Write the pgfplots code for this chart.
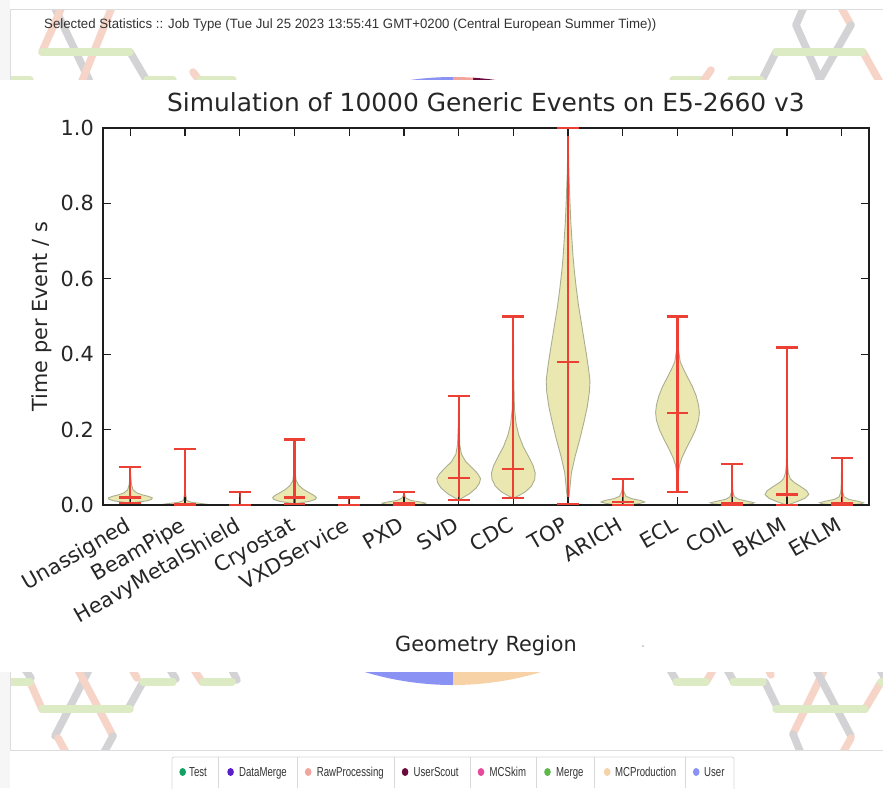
\documentclass[border=0pt]{standalone}
\usepackage{pgfplots}
\pgfplotsset{compat=1.18}
\usepackage{pgfplotstable}
\usepackage{graphicx}
\usepackage{fontspec}
\setmainfont{DejaVu Sans}
\newfontfamily\webfont{Liberation Sans}

\definecolor{pagegrey}{HTML}{F6F6F6}
\definecolor{panelline}{HTML}{DCDCDC}
\definecolor{hexgrey}{HTML}{D3D3D5}
\definecolor{hexsalmon}{HTML}{F7D4C8}
\definecolor{hexgreen}{HTML}{DDEBC5}
\definecolor{pieuser}{HTML}{8A92F4}
\definecolor{piemcprod}{HTML}{F6D2A6}
\definecolor{pieraw}{HTML}{F2A59C}
\definecolor{piescout}{HTML}{6B0A3C}
\definecolor{lgTest}{HTML}{12A163}
\definecolor{lgDataMerge}{HTML}{5B1FC9}
\definecolor{lgMCSkim}{HTML}{E64A9C}
\definecolor{lgMerge}{HTML}{5DB94A}
\definecolor{hdrtext}{HTML}{333333}
\definecolor{legline}{HTML}{D8D8D8}
\definecolor{vfill}{HTML}{EAE8B0}
\definecolor{vedge}{HTML}{AAAE90}
\definecolor{vred}{HTML}{EC4034}
\definecolor{spine}{HTML}{1E1E1E}
\definecolor{txt}{HTML}{262626}

% per-region summary: centre, minimum, median, maximum (s)
\pgfplotstableread{
c  min    med    max
0  0.005  0.020  0.100
1  0.000  0.002  0.148
2  0.000  0.001  0.034
3  0.003  0.020  0.174
4  0.000  0.001  0.020
5  0.000  0.006  0.034
6  0.013  0.071  0.289
7  0.018  0.095  0.500
8  0.002  0.380  1.000
9  0.000  0.008  0.068
10 0.035  0.245  0.500
11 0.000  0.004  0.108
12 0.000  0.028  0.418
13 0.000  0.004  0.125
}\stats

% violin outlines: time y and half width h (in category units);
% each outline starts and ends on the centre line
\pgfplotstableread{
y h
0.005 0.00
0.008 0.15
0.011 0.30
0.015 0.39
0.019 0.40
0.023 0.33
0.027 0.22
0.032 0.12
0.040 0.05
0.055 0.02
0.075 0.008
0.100 0.00
}\vUnassigned
\pgfplotstableread{
y h
0.000 0.00
0.000 0.30
0.002 0.40
0.004 0.30
0.007 0.12
0.012 0.03
0.030 0.008
0.080 0.003
0.148 0.00
}\vBeamPipe
\pgfplotstableread{
y h
0.000 0.00
0.000 0.007
0.034 0.003
0.034 0.00
}\vHeavy
\pgfplotstableread{
y h
0.003 0.00
0.006 0.12
0.010 0.28
0.015 0.38
0.020 0.40
0.026 0.35
0.033 0.26
0.042 0.16
0.052 0.08
0.065 0.03
0.085 0.012
0.120 0.005
0.174 0.00
}\vCryostat
\pgfplotstableread{
y h
0.000 0.00
0.000 0.007
0.020 0.003
0.020 0.00
}\vVXD
\pgfplotstableread{
y h
0.000 0.00
0.000 0.20
0.003 0.38
0.005 0.40
0.008 0.30
0.012 0.13
0.018 0.04
0.025 0.012
0.034 0.00
}\vPXD
\pgfplotstableread{
y h
0.013 0.00
0.020 0.08
0.030 0.20
0.045 0.32
0.058 0.38
0.070 0.40
0.083 0.35
0.098 0.25
0.115 0.13
0.135 0.05
0.160 0.02
0.210 0.007
0.289 0.00
}\vSVD
\pgfplotstableread{
y h
0.018 0.00
0.025 0.10
0.035 0.22
0.050 0.33
0.068 0.39
0.085 0.40
0.105 0.36
0.128 0.28
0.155 0.18
0.185 0.10
0.215 0.05
0.255 0.02
0.330 0.008
0.500 0.00
}\vCDC
\pgfplotstableread{
y h
0.002 0.00
0.040 0.03
0.085 0.06
0.130 0.13
0.172 0.21
0.220 0.29
0.260 0.35
0.300 0.39
0.330 0.40
0.365 0.37
0.395 0.34
0.440 0.29
0.485 0.24
0.530 0.19
0.575 0.15
0.620 0.115
0.660 0.09
0.750 0.05
0.820 0.03
0.880 0.015
0.950 0.006
1.000 0.00
}\vTOP
\pgfplotstableread{
y h
0.000 0.00
0.000 0.10
0.004 0.30
0.008 0.40
0.012 0.33
0.017 0.16
0.023 0.06
0.035 0.02
0.050 0.007
0.068 0.00
}\vARICH
\pgfplotstableread{
y h
0.035 0.00
0.080 0.01
0.105 0.035
0.125 0.08
0.150 0.16
0.175 0.25
0.200 0.33
0.225 0.385
0.245 0.40
0.265 0.385
0.290 0.34
0.315 0.27
0.340 0.18
0.360 0.11
0.380 0.05
0.410 0.018
0.450 0.006
0.500 0.00
}\vECL
\pgfplotstableread{
y h
0.000 0.00
0.000 0.15
0.003 0.35
0.006 0.40
0.010 0.28
0.015 0.12
0.022 0.04
0.035 0.012
0.060 0.005
0.108 0.00
}\vCOIL
\pgfplotstableread{
y h
0.002 0.00
0.002 0.05
0.010 0.20
0.018 0.33
0.028 0.40
0.038 0.36
0.050 0.24
0.060 0.13
0.070 0.06
0.085 0.025
0.110 0.01
0.200 0.004
0.418 0.00
}\vBKLM
\pgfplotstableread{
y h
0.000 0.00
0.000 0.15
0.003 0.35
0.006 0.40
0.010 0.30
0.015 0.13
0.022 0.045
0.035 0.015
0.060 0.006
0.125 0.00
}\vEKLM

% one violin body: [edge colour]{centre}{outline table}
% each half is closed along the centre line
\newcommand{\violin}[3][vedge]{%
  \addplot[fill=vfill, draw=none, forget plot] table[x expr=#2+\thisrow{h}, y=y] {#3};
  \addplot[fill=vfill, draw=none, forget plot] table[x expr=#2-\thisrow{h}, y=y] {#3};
  \addplot[draw=#1, line width=0.9pt, forget plot] table[x expr=#2+\thisrow{h}, y=y] {#3};
  \addplot[draw=#1, line width=0.9pt, forget plot] table[x expr=#2-\thisrow{h}, y=y] {#3};
}

\tikzset{
  tube/.style={line width=7.5pt, line cap=round},
  tg/.style={tube, hexgrey},
  ts/.style={tube, hexsalmon},
  tn/.style={tube, hexgreen},
}

\begin{document}
\begin{tikzpicture}
\useasboundingbox (0pt,0pt) rectangle (883pt,-788pt);

% page background and panel
\fill[white] (0pt,0pt) rectangle (883pt,-788pt);
\fill[pagegrey] (0pt,0pt) rectangle (10pt,-788pt);

\begin{scope}
  \clip (10.5pt,-10pt) rectangle (883pt,-749.5pt);
  \begin{scope}[x=1pt,y=-1pt]
    % hexagon tubes, upper left
    \draw[tg] (52,2) -- (92,86);
    \draw[ts] (64,2) -- (42,52);
    \draw[ts] (114,2) -- (80,86);
    \draw[tg] (130,52) -- (150,86);
    \draw[tn] (42,52) -- (130,52);
    \draw[tn] (2,80) -- (30,80);
    \draw[tn] (147,80) -- (173,80);
    \draw[ts] (193,72) -- (199,80);
    \draw[tn] (200,80) -- (233,80);
    % upper right
    \draw[tg] (806,2) -- (796,25);
    \draw[tg] (796,25) -- (823,86);
    \draw[ts] (838,2) -- (851,25);
    \draw[tg] (851,25) -- (816,86);
    \draw[ts] (863,52) -- (887,95);
    \draw[tg] (776,52) -- (759,86);
    \draw[tn] (776,52) -- (863,52);
    \draw[tn] (673,80) -- (703,80);
    \draw[ts] (704,80) -- (711,70);
    \draw[tn] (731,80) -- (761,80);
    % lower left
    \draw[tg] (24,668) -- (31,678);
    \draw[ts] (30,682) -- (42,709);
    \draw[tg] (93,662) -- (55,736);
    \draw[ts] (58,738) -- (68,756);
    \draw[ts] (74,662) -- (113,736);
    \draw[tg] (113,736) -- (102,756);
    \draw[tg] (143,682) -- (128,709);
    \draw[ts] (130,666) -- (137,678);
    \draw[tg] (169,668) -- (176,679);
    \draw[ts] (193,668) -- (202,682);
    \draw[tg] (231,668) -- (237,680);
    \draw[tn] (2,682) -- (30,682);
    \draw[tn] (42,709) -- (130,709);
    \draw[tn] (143,682) -- (173,682);
    \draw[tn] (203,682) -- (232,682);
    % lower right
    \draw[tg] (669,668) -- (676,680);
    \draw[ts] (706,682) -- (713,670);
    \draw[tg] (726,668) -- (733,680);
    \draw[tg] (765,682) -- (778,709);
    \draw[ts] (767,666) -- (771,675);
    \draw[ts] (828,662) -- (793,734);
    \draw[tg] (812,662) -- (851,736);
    \draw[tg] (793,734) -- (802,756);
    \draw[ts] (851,738) -- (841,756);
    \draw[ts] (865,709) -- (881,682);
    \draw[tg] (879,668) -- (885,678);
    \draw[tn] (676,682) -- (706,682);
    \draw[tn] (733,682) -- (763,682);
    \draw[tn] (776,709) -- (865,709);
    \draw[tn] (881,682) -- (895,682);
  \end{scope}
  % job-type pie behind the chart
  \fill[pieuser] (453pt,-381pt) -- ++(90:304pt) arc[start angle=90, end angle=270, radius=304pt] -- cycle;
  \fill[piemcprod] (453pt,-381pt) -- ++(-90:304pt) arc[start angle=-90, end angle=20, radius=304pt] -- cycle;
  \fill[piescout] (453pt,-381pt) -- ++(20:304pt) arc[start angle=20, end angle=86.2, radius=304pt] -- cycle;
  \fill[pieraw] (453pt,-381pt) -- ++(86.2:304pt) arc[start angle=86.2, end angle=90, radius=304pt] -- cycle;
\end{scope}

\begin{scope}[x=1pt,y=-1pt]
  \draw[panelline, line width=1pt] (10,9.5) -- (883,9.5);
  \draw[panelline, line width=1pt] (10,9.5) -- (10,750);
  \draw[panelline, line width=1pt] (10,750) -- (883,750);
  \node[anchor=base west, inner sep=0pt, text=hdrtext, font=\webfont\fontsize{13.5}{16}\selectfont] at (44,28)
    {\resizebox{612pt}{\height}{Selected Statistics :: Job Type (Tue Jul 25 2023 13:55:41 GMT+0200 (Central European Summer Time))}};

  % chart canvas
  \fill[white] (0,80) rectangle (883,672);
  \fill[black!35] (643,646) circle [radius=0.9pt];

  % job-type legend
  \draw[legline, line width=0.8pt, fill=white, rounded corners=2pt] (172,757) rectangle (734,792);
  \foreach \s in {218.2,297,394.4,470.4,536.3,594.3,685.5}
    \draw[legline, line width=0.8pt] (\s,757) -- (\s,788);
  \foreach \dx/\tx/\col/\lab in {
      182.7/189/lgTest/Test,
      230.6/239/lgDataMerge/DataMerge,
      308.2/316.7/pieraw/RawProcessing,
      405.1/413.5/piescout/UserScout,
      481/489.5/lgMCSkim/MCSkim,
      547.5/556/lgMerge/Merge,
      607.2/615/piemcprod/MCProduction,
      696.2/704/pieuser/User} {
    \fill[\col] (\dx,772) ellipse [x radius=3.3pt, y radius=4pt];
    \node[anchor=base west, inner sep=0pt, text=hdrtext, font=\webfont\fontsize{13}{15}\selectfont] at (\tx,776.8)
      {\scalebox{0.74}[1]{\lab}};
  }
\end{scope}

\begin{axis}[
  at={(103pt,-505pt)}, anchor=south west,
  scale only axis, width=766pt, height=377pt,
  xmin=-0.5, xmax=13.5, ymin=0, ymax=1,
  axis on top,
  axis line style={line width=1.6pt, draw=spine},
  tick style={line width=1.3pt, draw=spine},
  major tick length=8pt,
  tick align=inside,
  xtick={0,...,13},
  xticklabels={Unassigned,BeamPipe,HeavyMetalShield,Cryostat,VXDService,PXD,SVD,CDC,TOP,ARICH,ECL,COIL,BKLM,EKLM},
  ytick={0,0.2,0.4,0.6,0.8,1.0},
  yticklabels={0.0,0.2,0.4,0.6,0.8,1.0},
  ticklabel style={font=\fontsize{20.8}{25}\selectfont, text=txt},
  xticklabel style={inner sep=0pt, xshift=-6pt, yshift=-11pt, rotate=30, anchor=north east},
  yticklabel style={anchor=east, inner sep=0pt, xshift=-9pt},
  title={Simulation of 10000 Generic Events on E5-2660 v3},
  title style={at={(axis description cs:0.5,1)}, anchor=base, yshift=10.5pt, inner sep=0pt,
    font=\fontsize{24.9}{29}\selectfont, text=txt},
  xlabel={Geometry Region},
  xlabel style={at={(axis description cs:0.5,0)}, anchor=base, yshift=-146pt, inner sep=0pt,
    font=\fontsize{20.8}{25}\selectfont, text=txt},
  ylabel={Time per Event / s},
  ylabel style={at={(axis description cs:-0.0796,0.5)}, anchor=center, inner sep=0pt,
    font=\fontsize{20.8}{25}\selectfont, text=txt},
]
\violin{0}{\vUnassigned}
\violin{1}{\vBeamPipe}
\violin{3}{\vCryostat}
\violin{5}{\vPXD}
\violin{6}{\vSVD}
\violin{7}{\vCDC}
\violin{8}{\vTOP}
\violin{9}{\vARICH}
\violin{10}{\vECL}
\violin{11}{\vCOIL}
\violin{12}{\vBKLM}
\violin{13}{\vEKLM}

% range bars from minimum to maximum
\addplot[draw=none, mark=none, forget plot,
  error bars/.cd, y dir=plus, y explicit, error mark=none,
  error bar style={draw=vred, line width=2.2pt}]
  table[x=c, y=min, y error expr=\thisrow{max}-\thisrow{min}] {\stats};
% caps at minimum, median and maximum
\addplot[only marks, mark=-, mark size=10.94pt, mark options={draw=vred, line width=2.2pt}, forget plot]
  table[x=c, y=min] {\stats};
\addplot[only marks, mark=-, mark size=10.94pt, mark options={draw=vred, line width=2.2pt}, forget plot]
  table[x=c, y=med] {\stats};
\addplot[only marks, mark=-, mark size=10.94pt, mark options={draw=vred, line width=2.2pt}, forget plot]
  table[x=c, y=max] {\stats};

% zero-width bodies sit over their bars
\violin[black!70]{2}{\vHeavy}
\violin[black!70]{4}{\vVXD}
\end{axis}
\end{tikzpicture}
\end{document}
